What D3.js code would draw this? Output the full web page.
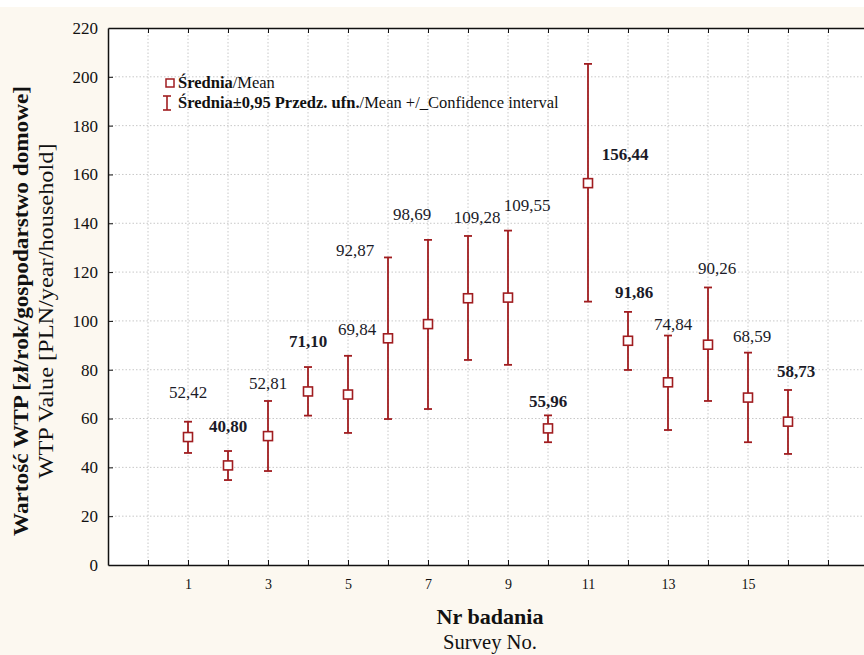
<!DOCTYPE html>
<html>
<head>
<meta charset="utf-8">
<script src="https://cdn.jsdelivr.net/npm/d3@7"></script>
<style>
  body { margin: 0; background: #ffffff; }
  svg { display: block; font-family: "Liberation Serif", "Times New Roman", serif; }
  .grid line { stroke: #c8c8c8; stroke-dasharray: 1.5,2; stroke-width: 1; }
  .axis path, .axis line { stroke: #111; }
  .axis text { fill: #111; }
</style>
</head>
<body>
<div id="chart"></div>
<script>
// survey number, mean WTP and 95% confidence interval bounds
var surveys = d3.range(1, 17);
var means  = [52.42, 40.80, 52.81, 71.10, 69.84, 92.87, 98.69, 109.28, 109.55, 55.96, 156.44, 91.86, 74.84, 90.26, 68.59, 58.73];
var ciLow  = [45.9, 34.8, 38.5, 61.2, 54.1, 59.8, 63.9, 84.0, 82.0, 50.3, 107.9, 79.9, 55.3, 67.2, 50.3, 45.5];
var ciHigh = [58.7, 46.7, 67.2, 81.1, 85.7, 126.0, 133.2, 134.8, 137.0, 61.3, 205.3, 103.7, 94.0, 113.7, 87.0, 71.7];
var xTickLabels = [1, 3, 5, 7, 9, 11, 13, 15];
var yTicks = d3.range(0, 221, 20);

var width = 864, height = 655;
var mLeft = 108, mTop = 28, mBottom = 565;
var serif = '"Liberation Serif", "Times New Roman", serif';

var svg = d3.select('#chart').append('svg').attr('width', width).attr('height', height);

// cream page, white plot area
svg.append('rect').attr('x', 0).attr('y', 7).attr('width', width).attr('height', height - 7).attr('fill', '#fcf8f0');

var x = d3.scaleLinear().domain([-1, 19]).range([mLeft, mLeft + 800]);
var y = d3.scaleLinear().domain([0, 220]).range([mBottom, mTop]);

svg.append('rect').attr('x', mLeft).attr('y', mTop).attr('width', x(19) - mLeft).attr('height', mBottom - mTop).attr('fill', '#fff');

var xTicks = d3.range(0, 19);

// grid
var grid = svg.append('g').attr('class', 'grid');
grid.selectAll('line.v').data(xTicks).enter().append('line').attr('class', 'v')
    .attr('x1', function(d) { return x(d); }).attr('x2', function(d) { return x(d); })
    .attr('y1', mTop).attr('y2', mBottom);
grid.selectAll('line.h').data(yTicks.slice(1, -1)).enter().append('line').attr('class', 'h')
    .attr('x1', mLeft).attr('x2', x(19))
    .attr('y1', function(d) { return y(d); }).attr('y2', function(d) { return y(d); });

// axes, ticks pointing inward
var xAxis = d3.axisBottom(x).tickValues(xTicks).tickSizeInner(-5).tickSizeOuter(0)
    .tickFormat(function(d) { return xTickLabels.indexOf(d) >= 0 ? d : ''; });
var gx = svg.append('g').attr('class', 'axis').attr('transform', 'translate(0,' + mBottom + ')').call(xAxis)
    .attr('font-family', serif).attr('font-size', 14);
gx.selectAll('text').attr('y', 14);
gx.select('path').attr('stroke-width', 1.5);

var gxt = svg.append('g').attr('class', 'axis').attr('transform', 'translate(0,' + mTop + ')')
    .call(d3.axisTop(x).tickValues(xTicks).tickSizeInner(-5).tickSizeOuter(0).tickFormat(''));
gxt.select('path').attr('stroke-width', 1.5);

var yAxis = d3.axisLeft(y).tickValues(yTicks).tickSizeInner(-5).tickSizeOuter(0).tickPadding(10);
var gy = svg.append('g').attr('class', 'axis').attr('transform', 'translate(' + mLeft + ',0)').call(yAxis)
    .attr('font-family', serif).attr('font-size', 17);
gy.select('path').attr('stroke-width', 1.5);
gy.selectAll('.tick line').filter(function(d) { return d == 0 || d == 220; }).remove();

// error bars
var red = '#a01d20';
var capW = 4;
var bars = svg.append('g').selectAll('g.bar').data(surveys).enter().append('g').attr('class', 'bar');
bars.append('line').attr('x1', function(d) { return x(d); }).attr('x2', function(d) { return x(d); })
    .attr('y1', function(d, i) { return y(ciLow[i]); }).attr('y2', function(d, i) { return y(ciHigh[i]); })
    .attr('stroke', red).attr('stroke-width', 1.8);
bars.append('line').attr('x1', function(d) { return x(d) - capW; }).attr('x2', function(d) { return x(d) + capW; })
    .attr('y1', function(d, i) { return y(ciHigh[i]); }).attr('y2', function(d, i) { return y(ciHigh[i]); })
    .attr('stroke', red).attr('stroke-width', 1.8);
bars.append('line').attr('x1', function(d) { return x(d) - capW; }).attr('x2', function(d) { return x(d) + capW; })
    .attr('y1', function(d, i) { return y(ciLow[i]); }).attr('y2', function(d, i) { return y(ciLow[i]); })
    .attr('stroke', red).attr('stroke-width', 1.8);
bars.append('rect').attr('x', function(d) { return x(d) - 4.5; }).attr('y', function(d, i) { return y(means[i]) - 4.5; })
    .attr('width', 9).attr('height', 9).attr('fill', '#fff').attr('stroke', red).attr('stroke-width', 1.6);

// value labels, placed by hand in the original (offset from the upper whisker)
var labelNudge = [[0, -30], [0, -25], [0, -18], [0, -26], [9, -27], [-33, -7], [-16, -26], [9, -19],
                  [19, -26], [0, -14], [37, 90], [6, -20], [5, -12], [9, -19], [4, -17], [8, -19]];
var boldLabels = [1, 3, 9, 10, 11, 15];
var fmt = function(v) { return v.toFixed(2).replace('.', ','); };
svg.append('g').selectAll('text.val').data(surveys).enter().append('text').attr('class', 'val')
    .attr('x', function(d, i) { return x(d) + labelNudge[i][0]; })
    .attr('y', function(d, i) { return y(ciHigh[i]) + labelNudge[i][1]; })
    .attr('dy', '0.35em').attr('text-anchor', 'middle')
    .style('font-size', '17px').style('fill', '#1b1b28')
    .style('font-weight', function(d, i) { return boldLabels.indexOf(i) >= 0 ? 'bold' : 'normal'; })
    .text(function(d, i) { return fmt(means[i]); });

// legend
var lg = svg.append('g').style('font-size', '16.5px').style('fill', '#111');
lg.append('rect').attr('x', 166).attr('y', 79).attr('width', 8).attr('height', 8)
    .attr('fill', '#fff').attr('stroke', red).attr('stroke-width', 1.5);
var t1 = lg.append('text').attr('x', 178).attr('y', 88);
t1.append('tspan').style('font-weight', 'bold').text('Średnia');
t1.append('tspan').text('/Mean');
lg.append('line').attr('x1', 167).attr('x2', 167).attr('y1', 96).attr('y2', 110).attr('stroke', red).attr('stroke-width', 1.6);
lg.append('line').attr('x1', 163).attr('x2', 171).attr('y1', 96).attr('y2', 96).attr('stroke', red).attr('stroke-width', 1.6);
lg.append('line').attr('x1', 163).attr('x2', 171).attr('y1', 110).attr('y2', 110).attr('stroke', red).attr('stroke-width', 1.6);
var t2 = lg.append('text').attr('x', 178).attr('y', 108);
t2.append('tspan').style('font-weight', 'bold').text('Średnia±0,95 Przedz. ufn.');
t2.append('tspan').text('/Mean +/_Confidence interval');

// axis titles
svg.append('text').attr('x', 490).attr('y', 624).attr('text-anchor', 'middle')
    .attr('textLength', 107).attr('lengthAdjust', 'spacingAndGlyphs')
    .style('font-size', '21px').style('font-weight', 'bold').style('fill', '#111').text('Nr badania');
svg.append('text').attr('x', 490).attr('y', 649).attr('text-anchor', 'middle')
    .attr('textLength', 94).attr('lengthAdjust', 'spacingAndGlyphs')
    .style('font-size', '20px').style('fill', '#111').text('Survey No.');

svg.append('text').attr('transform', 'translate(28,311) rotate(-90)').attr('text-anchor', 'middle')
    .attr('textLength', 450).attr('lengthAdjust', 'spacingAndGlyphs')
    .style('font-size', '21px').style('font-weight', 'bold').style('fill', '#111')
    .text('Wartość WTP [zł/rok/gospodarstwo domowe]');
svg.append('text').attr('transform', 'translate(53,311) rotate(-90)').attr('text-anchor', 'middle')
    .attr('textLength', 335).attr('lengthAdjust', 'spacingAndGlyphs')
    .style('font-size', '21px').style('fill', '#111')
    .text('WTP Value [PLN/year/household]');
</script>
</body>
</html>
